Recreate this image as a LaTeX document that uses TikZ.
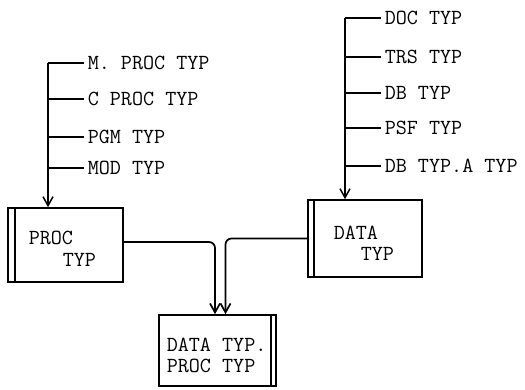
\documentclass[tikz,border=0pt]{standalone}
\usepackage{fontspec}
\usetikzlibrary{arrows.meta}

\tikzset{
  typbox/.style={draw, line width=1.6pt, inner sep=0pt},
  typtxt/.style={inner sep=0pt, anchor=west},
  leaf/.style={inner sep=3pt, anchor=west},
  barb/.style={-{Straight Barb[length=9pt,width=10pt]}}
}

\begin{document}
\begin{tikzpicture}[x=1pt, y=-1pt, line width=1.5pt,
    font=\ttfamily\fontsize{21.5}{24}\selectfont]
  \useasboundingbox (0,0) rectangle (525,390);

  % the three boxes, each with its extra bar
  \node [typbox, minimum width=115pt, minimum height=74pt] (proc) at (65.5,245) {};
  \draw ([xshift=8pt]proc.north west) -- ([xshift=8pt]proc.south west);
  \node [typtxt] (proca) at (28,238) {PROC};
  \node [typtxt] (procb) at (62,260) {TYP};

  \node [typbox, minimum width=114pt, minimum height=77pt] (data) at (365,238.5) {};
  \draw ([xshift=7pt]data.north west) -- ([xshift=7pt]data.south west);
  \node [typtxt] (dataa) at (333,233) {DATA};
  \node [typtxt] (datab) at (360,254) {TYP};

  \node [typbox, minimum width=117pt, minimum height=71pt] (res) at (217.5,350.5) {};
  \draw ([xshift=-6pt]res.north east) -- ([xshift=-6pt]res.south east);
  \node [typtxt] (resa) at (166,345) {DATA TYP.};
  \node [typtxt] (resb) at (166,366) {PROC TYP};

  % left list
  \coordinate (ltop) at (48,63);
  \foreach \y/\t [count=\i] in {63/M. PROC TYP, 99/C PROC TYP, 137/PGM TYP, 168/MOD TYP} {
    \node [leaf] (l\i) at (84,\y) {\t};
    \draw (l\i.west -| ltop) -- (l\i.west);
  }
  \draw [barb] (ltop) -- (proc.north -| ltop);

  % right list
  \coordinate (rtop) at (345,18);
  \foreach \y/\t [count=\i] in {18/DOC TYP, 57/TRS TYP, 93/DB TYP, 128/PSF TYP, 166/DB TYP.A TYP} {
    \node [leaf] (r\i) at (381,\y) {\t};
    \draw (r\i.west -| rtop) -- (r\i.west);
  }
  \draw [barb] (rtop) -- (data.north -| rtop);

  % both boxes feed the joint one
  \draw [barb, line width=1.7pt, rounded corners=6pt] ([yshift=3pt]proc.east) -| ([xshift=-2.5pt]res.north);
  \draw [barb, line width=1.7pt, rounded corners=6pt] (data.west) -| ([xshift=8pt]res.north);
\end{tikzpicture}
\end{document}
